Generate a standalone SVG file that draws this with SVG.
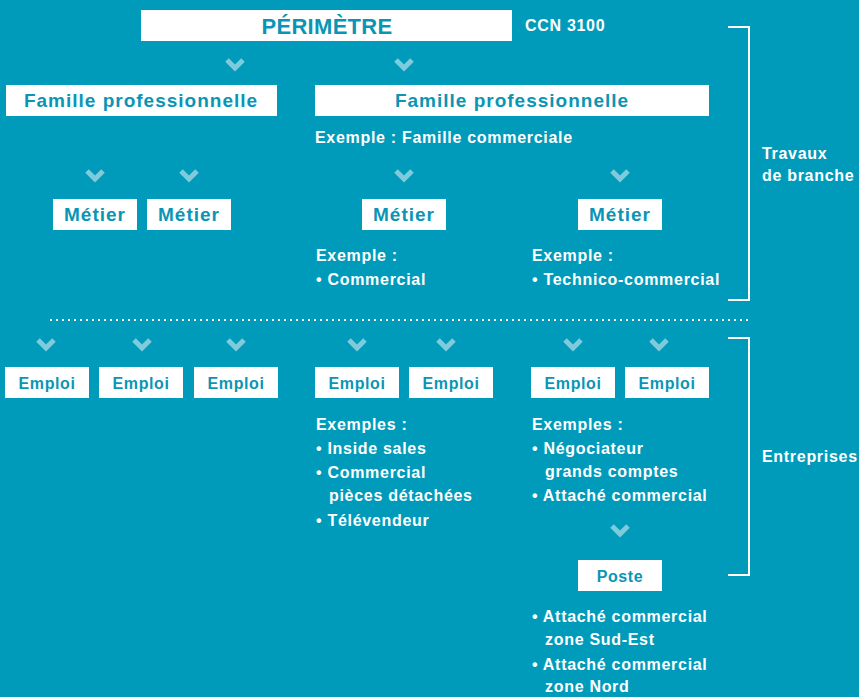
<svg xmlns="http://www.w3.org/2000/svg" width="859" height="697" viewBox="0 0 859 697">
<defs>
<style>
.bg{fill:#009bba}
.box{fill:#ffffff}
.bt{font-family:"Liberation Sans",Arial,sans-serif;font-weight:bold;fill:#0a95b5;text-anchor:middle}
.l{font-size:19px;letter-spacing:1px}
.s{font-size:16px;letter-spacing:0.6px}
.wt{font-family:"Liberation Sans",Arial,sans-serif;font-weight:bold;fill:#ffffff;font-size:16px;letter-spacing:0.7px}
.chev{fill:none;stroke:#80cbdb;stroke-width:5}
.br{fill:none;stroke:#ffffff;stroke-width:2}
</style>
<path id="ch" class="chev" d="M-8,-4 L0,4 L8,-4"/>
</defs>
<rect class="bg" x="0" y="0" width="859" height="697"/>

<g id="connectors">
<use href="#ch" x="235" y="64"/>
<use href="#ch" x="404" y="64"/>
<use href="#ch" x="95" y="175"/>
<use href="#ch" x="189" y="175"/>
<use href="#ch" x="404" y="175"/>
<use href="#ch" x="620" y="175"/>
<use href="#ch" x="46" y="344"/>
<use href="#ch" x="142" y="344"/>
<use href="#ch" x="236" y="344"/>
<use href="#ch" x="357" y="344"/>
<use href="#ch" x="446" y="344"/>
<use href="#ch" x="573" y="344"/>
<use href="#ch" x="659" y="344"/>
<use href="#ch" x="620" y="530"/>
<line x1="50" y1="320" x2="750" y2="320" stroke="#ffffff" stroke-width="2" stroke-dasharray="2,4"/>
</g>

<g id="perimetre">
<rect class="box" x="141" y="10" width="371" height="31"/>
<text class="bt" x="327" y="34" font-size="22" letter-spacing="0.3">PÉRIMÈTRE</text>
</g>
<g id="ccn"><text class="wt" x="525" y="31">CCN 3100</text></g>

<g id="famille1">
<rect class="box" x="6" y="85" width="271" height="31"/>
<text class="bt l" x="141" y="107">Famille professionnelle</text>
</g>
<g id="famille2">
<rect class="box" x="315" y="85" width="394" height="31"/>
<text class="bt l" x="512" y="107">Famille professionnelle</text>
</g>
<g id="ex-famille"><text class="wt" x="315" y="143">Exemple : Famille commerciale</text></g>

<g id="metier1"><rect class="box" x="53" y="199" width="84" height="31"/><text class="bt l" x="95" y="221">Métier</text></g>
<g id="metier2"><rect class="box" x="147" y="199" width="84" height="31"/><text class="bt l" x="189" y="221">Métier</text></g>
<g id="metier3"><rect class="box" x="362" y="199" width="84" height="31"/><text class="bt l" x="404" y="221">Métier</text></g>
<g id="metier4"><rect class="box" x="578" y="199" width="84" height="31"/><text class="bt l" x="620" y="221">Métier</text></g>

<g id="ex-metier3"><text class="wt" x="316" y="261">Exemple :</text><text class="wt" x="316" y="285">• Commercial</text></g>
<g id="ex-metier4"><text class="wt" x="532" y="261">Exemple :</text><text class="wt" x="532" y="285">• Technico-commercial</text></g>

<g id="bracket-travaux">
<path class="br" d="M728,27 H749 V300 H728"/>
<text class="wt" x="762" y="159">Travaux</text>
<text class="wt" x="762" y="181">de branche</text>
</g>

<g id="emploi1"><rect class="box" x="5" y="367" width="84" height="31"/><text class="bt s" x="47" y="389">Emploi</text></g>
<g id="emploi2"><rect class="box" x="99" y="367" width="84" height="31"/><text class="bt s" x="141" y="389">Emploi</text></g>
<g id="emploi3"><rect class="box" x="194" y="367" width="84" height="31"/><text class="bt s" x="236" y="389">Emploi</text></g>
<g id="emploi4"><rect class="box" x="315" y="367" width="84" height="31"/><text class="bt s" x="357" y="389">Emploi</text></g>
<g id="emploi5"><rect class="box" x="409" y="367" width="84" height="31"/><text class="bt s" x="451" y="389">Emploi</text></g>
<g id="emploi6"><rect class="box" x="531" y="367" width="84" height="31"/><text class="bt s" x="573" y="389">Emploi</text></g>
<g id="emploi7"><rect class="box" x="625" y="367" width="84" height="31"/><text class="bt s" x="667" y="389">Emploi</text></g>

<g id="ex-emploi4">
<text class="wt" x="316" y="430">Exemples :</text>
<text class="wt" x="316" y="454">• Inside sales</text>
<text class="wt" x="316" y="478">• Commercial</text>
<text class="wt" x="329" y="501">pièces détachées</text>
<text class="wt" x="316" y="526">• Télévendeur</text>
</g>
<g id="ex-emploi6">
<text class="wt" x="532" y="430">Exemples :</text>
<text class="wt" x="532" y="454">• Négociateur</text>
<text class="wt" x="545" y="477">grands comptes</text>
<text class="wt" x="532" y="501">• Attaché commercial</text>
</g>

<g id="poste"><rect class="box" x="578" y="560" width="84" height="31"/><text class="bt s" x="620" y="582">Poste</text></g>
<g id="ex-poste">
<text class="wt" x="532" y="622">• Attaché commercial</text>
<text class="wt" x="545" y="645">zone Sud-Est</text>
<text class="wt" x="532" y="670">• Attaché commercial</text>
<text class="wt" x="545" y="692">zone Nord</text>
</g>

<g id="bracket-entreprises">
<path class="br" d="M728,338 H749 V575 H728"/>
<text class="wt" x="762" y="462">Entreprises</text>
</g>
</svg>
